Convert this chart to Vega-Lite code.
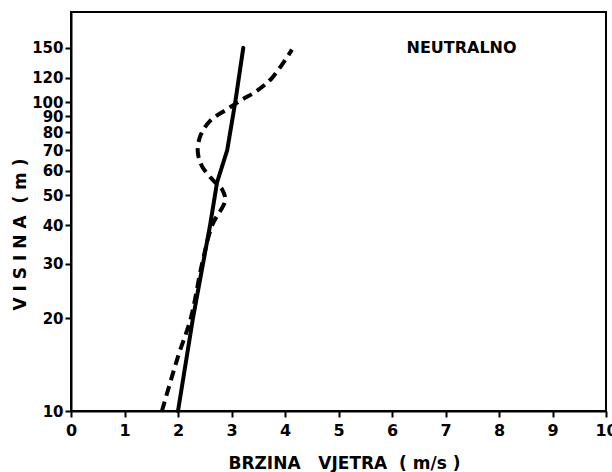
{
  "$schema": "https://vega.github.io/schema/vega-lite/v6.json",
  "autosize": "none",
  "width": 535,
  "height": 399,
  "padding": {"left": 71, "top": 12, "right": 6, "bottom": 61},
  "background": "white",
  "config": {
    "view": {"stroke": "black", "strokeWidth": 2},
    "font": "DejaVu Sans"
  },
  "datasets": {
    "solid": [
      {"i": 0, "v": 2.0, "h": 10},
      {"i": 1, "v": 2.28, "h": 20},
      {"i": 2, "v": 2.6, "h": 40},
      {"i": 3, "v": 2.73, "h": 55},
      {"i": 4, "v": 2.92, "h": 70},
      {"i": 5, "v": 3.07, "h": 100},
      {"i": 6, "v": 3.22, "h": 150}
    ],
    "dashed": [
      {"i": 0, "v": 1.7, "h": 10},
      {"i": 1, "v": 2.0, "h": 15},
      {"i": 2, "v": 2.24, "h": 20},
      {"i": 3, "v": 2.45, "h": 30},
      {"i": 4, "v": 2.64, "h": 40},
      {"i": 5, "v": 2.88, "h": 48},
      {"i": 6, "v": 2.83, "h": 52},
      {"i": 7, "v": 2.65, "h": 56},
      {"i": 8, "v": 2.45, "h": 62},
      {"i": 9, "v": 2.37, "h": 69},
      {"i": 10, "v": 2.42, "h": 78},
      {"i": 11, "v": 2.6, "h": 87},
      {"i": 12, "v": 2.92, "h": 95},
      {"i": 13, "v": 3.2, "h": 102},
      {"i": 14, "v": 3.48, "h": 109},
      {"i": 15, "v": 3.76, "h": 120},
      {"i": 16, "v": 4.13, "h": 148}
    ],
    "note": [{"v": 7.3, "h": 150, "label": "NEUTRALNO"}]
  },
  "encoding": {
    "x": {
      "field": "v", "type": "quantitative",
      "scale": {"domain": [0, 10], "nice": false, "zero": false},
      "axis": {
        "title": "BRZINA\u00a0\u00a0\u00a0VJETRA\u00a0\u00a0(\u00a0m/s\u00a0)",
        "values": [0, 1, 2, 3, 4, 5, 6, 7, 8, 9, 10],
        "grid": false,
        "domainColor": "black", "domainWidth": 2,
        "tickColor": "black", "tickWidth": 2, "tickSize": 6,
        "labelColor": "black", "labelFont": "DejaVu Sans", "labelFontWeight": "bold", "labelFontSize": 16,
        "labelPadding": 5, "labelFlush": false, "labelOverlap": false,
        "titleColor": "black", "titleFont": "DejaVu Sans", "titleFontWeight": "bold", "titleFontSize": 17,
        "titleX": 273, "titleY": 57, "titleBaseline": "alphabetic", "titleAlign": "center"
      }
    },
    "y": {
      "field": "h", "type": "quantitative",
      "scale": {"type": "log", "domain": [10, 196], "nice": false},
      "axis": {
        "title": "V I S I N A\u00a0\u00a0(\u00a0m\u00a0)",
        "values": [10, 20, 30, 40, 50, 60, 70, 80, 90, 100, 120, 150],
        "grid": false,
        "domainColor": "black", "domainWidth": 2,
        "tickColor": "black", "tickWidth": 2, "tickSize": 6,
        "labelColor": "black", "labelFont": "DejaVu Sans", "labelFontWeight": "bold", "labelFontSize": 15,
        "labelPadding": 2, "labelOverlap": false, "labelFlush": false,
        "titleColor": "black", "titleFont": "DejaVu Sans", "titleFontWeight": "bold", "titleFontSize": 17,
        "titleAngle": -90, "titleX": -51, "titleY": 222, "titleAlign": "center", "titleBaseline": "middle"
      }
    }
  },
  "layer": [
    {
      "data": {"name": "solid"},
      "mark": {"type": "line", "color": "black", "strokeWidth": 4, "interpolate": "linear", "strokeCap": "round"},
      "encoding": {"order": {"field": "i", "type": "quantitative"}}
    },
    {
      "data": {"name": "dashed"},
      "mark": {"type": "line", "color": "black", "strokeWidth": 4, "interpolate": "catmull-rom", "strokeDash": [10, 6], "strokeCap": "butt"},
      "encoding": {"order": {"field": "i", "type": "quantitative"}}
    },
    {
      "data": {"name": "note"},
      "mark": {"type": "text", "font": "DejaVu Sans", "fontWeight": "bold", "fontSize": 16, "color": "black", "align": "center", "baseline": "middle"},
      "encoding": {"text": {"field": "label"}}
    }
  ]
}
